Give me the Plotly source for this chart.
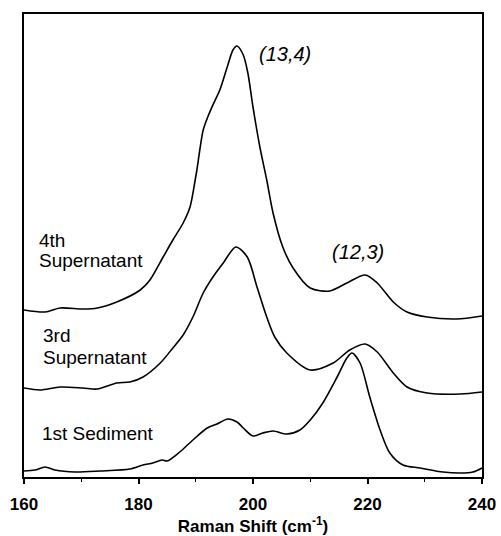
import plotly.graph_objects as go

# Raman shift (cm-1) and intensity (arbitrary units, offset stacked)
x_4th = [160.0, 163.7, 166.3, 170.3, 172.8, 176.2, 180.3, 182.0, 184.3, 186.0, 187.8, 189.0,
         189.9, 190.2, 191.3, 192.1, 193.0, 194.2, 195.5, 196.5, 197.2, 198.3, 199.1, 200.0,
         201.2, 202.4, 203.5, 205.2, 207.0, 210.0, 213.4, 216.4, 219.6, 221.7, 224.5, 226.9,
         230.4, 235.6, 240.0]
y_4th = [167, 165, 169, 168, 169, 175, 187, 197, 220, 237, 254, 270,
         297, 307, 347, 360, 372, 387, 410, 427, 431, 422, 404, 370,
         330, 297, 264, 230, 209, 189, 186, 194, 202, 194, 175, 165,
         160, 158, 161]

x_3rd = [160.0, 162.8, 166.3, 170.3, 172.8, 176.2, 178.5, 180.8, 183.8, 186.0, 187.8, 189.5,
         191.3, 193.0, 194.8, 197.0, 199.0, 200.7, 202.4, 203.8, 205.9, 210.0, 214.0, 216.9,
         219.6, 221.7, 224.5, 226.9, 230.4, 236.2, 240.0]
y_3rd = [89, 87, 90, 89, 88, 94, 95, 100, 114, 129, 142, 160,
         184, 200, 214, 230, 220, 190, 160, 140, 124, 107, 114, 127,
         133, 125, 104, 90, 84, 83, 85]

x_1st = [160.0, 161.9, 163.7, 165.4, 168.9, 173.3, 178.5, 180.8, 182.5, 184.1, 185.0, 187.2,
         189.5, 192.0, 193.7, 195.6, 197.2, 198.3, 200.0, 201.7, 203.5, 205.9, 208.2, 210.0,
         212.2, 214.7, 216.4, 217.3, 218.7, 220.4, 222.2, 223.9, 226.2, 229.2, 233.2, 236.2,
         238.4, 240.0]
y_1st = [6, 7, 10, 7, 5, 6, 8, 12, 14, 17, 16, 25,
         37, 49, 53, 58, 55, 49, 41, 44, 46, 43, 47, 57,
         74, 100, 119, 124, 114, 80, 47, 24, 12, 9, 5, 4,
         5, 9]

series_names = ["4th Supernatant", "3rd Supernatant", "1st Sediment"]
x_ticks = [160, 180, 200, 220, 240]

FONT = "Liberation Sans, Arial, Helvetica, sans-serif"

fig = go.Figure()
for name, xs, ys in zip(series_names, [x_4th, x_3rd, x_1st], [y_4th, y_3rd, y_1st]):
    fig.add_trace(go.Scatter(x=xs, y=ys, mode="lines", name=name,
                             line=dict(color="black", width=1.6, shape="spline", smoothing=0.8),
                             showlegend=False, hoverinfo="skip"))

label_font = dict(family=FONT, size=19, color="black")
labels = [("4th", 0.028, 0.510), ("Supernatant", 0.028, 0.467),
          ("3rd", 0.037, 0.305), ("Supernatant", 0.037, 0.258),
          ("1st Sediment", 0.035, 0.093)]
for txt, lx, ly in labels:
    fig.add_annotation(text=txt, xref="paper", yref="paper", x=lx, y=ly,
                       xanchor="left", yanchor="middle", showarrow=False, font=label_font)

fig.add_annotation(text="<i>(13,4)</i>", xref="paper", yref="paper",
                   x=0.508, y=0.913, xanchor="left", yanchor="middle",
                   showarrow=False, font=dict(family=FONT, size=20, color="black"))
fig.add_annotation(text="<i>(12,3)</i>", xref="paper", yref="paper",
                   x=0.668, y=0.486, xanchor="left", yanchor="middle",
                   showarrow=False, font=dict(family=FONT, size=20, color="black"))

fig.update_layout(
    width=501, height=536,
    margin=dict(l=24, r=19, t=14, b=59),
    paper_bgcolor="white", plot_bgcolor="white",
    font=dict(family=FONT, color="black"),
    xaxis=dict(range=[160, 240], tickvals=x_ticks, ticktext=[str(v) for v in x_ticks],
               ticks="outside", ticklen=5, tickwidth=1.5, tickcolor="black",
               minor=dict(ticks="outside", ticklen=3, tickwidth=1.2, tickcolor="black", dtick=10),
               showline=True, linecolor="black", linewidth=2, mirror=True,
               showgrid=False, zeroline=False, ticklabelstandoff=6, automargin=False,
               tickfont=dict(family=FONT, size=17, color="black", weight="bold"),
               title=dict(text="<b>Raman Shift (cm<sup>-1</sup>)</b>",
                          font=dict(family=FONT, size=17, color="black"), standoff=11)),
    yaxis=dict(range=[0, 463], showticklabels=False, ticks="",
               showline=True, linecolor="black", linewidth=2, mirror=True,
               showgrid=False, zeroline=False),
)

fig.write_html("out.html")
